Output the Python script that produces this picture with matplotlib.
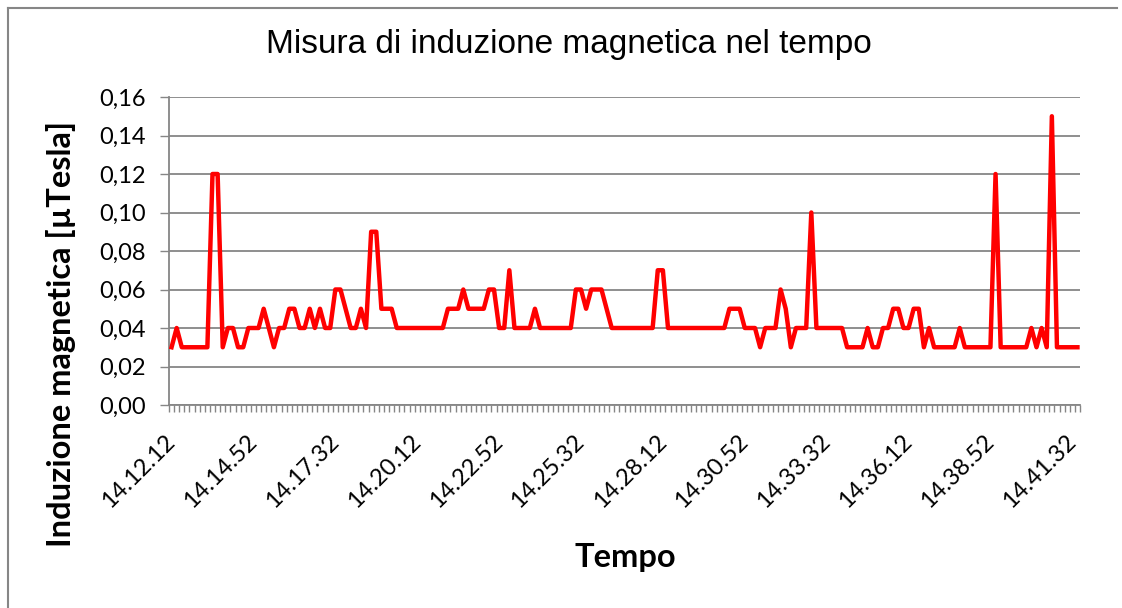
import matplotlib.pyplot as plt
import pandas as pd
from matplotlib.lines import Line2D

# sampling: one reading every 10 s starting at 14.12.12
start_time = '14:12:12'
step_seconds = 10
label_every = 16

# magnetic induction readings [uTesla]
induzione = [
    0.03, 0.04, 0.03, 0.03, 0.03, 0.03, 0.03, 0.03, 0.12, 0.12,
    0.03, 0.04, 0.04, 0.03, 0.03, 0.04, 0.04, 0.04, 0.05, 0.04,
    0.03, 0.04, 0.04, 0.05, 0.05, 0.04, 0.04, 0.05, 0.04, 0.05,
    0.04, 0.04, 0.06, 0.06, 0.05, 0.04, 0.04, 0.05, 0.04, 0.09,
    0.09, 0.05, 0.05, 0.05, 0.04, 0.04, 0.04, 0.04, 0.04, 0.04,
    0.04, 0.04, 0.04, 0.04, 0.05, 0.05, 0.05, 0.06, 0.05, 0.05,
    0.05, 0.05, 0.06, 0.06, 0.04, 0.04, 0.07, 0.04, 0.04, 0.04,
    0.04, 0.05, 0.04, 0.04, 0.04, 0.04, 0.04, 0.04, 0.04, 0.06,
    0.06, 0.05, 0.06, 0.06, 0.06, 0.05, 0.04, 0.04, 0.04, 0.04,
    0.04, 0.04, 0.04, 0.04, 0.04, 0.07, 0.07, 0.04, 0.04, 0.04,
    0.04, 0.04, 0.04, 0.04, 0.04, 0.04, 0.04, 0.04, 0.04, 0.05,
    0.05, 0.05, 0.04, 0.04, 0.04, 0.03, 0.04, 0.04, 0.04, 0.06,
    0.05, 0.03, 0.04, 0.04, 0.04, 0.10, 0.04, 0.04, 0.04, 0.04,
    0.04, 0.04, 0.03, 0.03, 0.03, 0.03, 0.04, 0.03, 0.03, 0.04,
    0.04, 0.05, 0.05, 0.04, 0.04, 0.05, 0.05, 0.03, 0.04, 0.03,
    0.03, 0.03, 0.03, 0.03, 0.04, 0.03, 0.03, 0.03, 0.03, 0.03,
    0.03, 0.12, 0.03, 0.03, 0.03, 0.03, 0.03, 0.03, 0.04, 0.03,
    0.04, 0.03, 0.15, 0.03, 0.03, 0.03, 0.03, 0.03,
]

y_ticks = [0.00, 0.02, 0.04, 0.06, 0.08, 0.10, 0.12, 0.14, 0.16]

times = pd.date_range('2000-01-01 ' + start_time, periods=len(induzione), freq=f'{step_seconds}s')
tempo = [t.strftime('%H.%M.%S') for t in times]

grey = '#868686'
W, H = 1122, 608

fig = plt.figure(figsize=(W / 100, H / 100), dpi=100)
ax = fig.add_axes([169 / W, 1 - 405 / H, (1080 - 169) / W, (405 - 97) / H])

x = list(range(len(induzione)))
ax.plot(x, induzione, color='#ff0000', linewidth=3.2, solid_joinstyle='round', zorder=3)

ax.set_xlim(-0.5, len(induzione) - 0.5)
ax.set_ylim(0, 0.16)

# y axis
ax.set_yticks(y_ticks)
ax.set_yticklabels([f'{v:.2f}'.replace('.', ',') for v in y_ticks], fontfamily='Lato', fontsize=17)
ax.yaxis.grid(True, color=grey, linewidth=1.3)
ax.set_axisbelow(True)

# x axis: small tick at every category boundary, label every 16 readings
ax.set_xticks([i - 0.5 for i in range(len(induzione) + 1)], minor=True)
label_pos = list(range(0, len(induzione), label_every))
ax.set_xticks(label_pos)
ax.set_xticklabels([tempo[i] for i in label_pos], rotation=45, ha='right', va='center',
                   rotation_mode='anchor', fontfamily='Lato', fontsize=17)
ax.tick_params(axis='x', which='major', length=0, pad=24)
ax.tick_params(axis='x', which='minor', length=5, width=1, color=grey, direction='out')
ax.tick_params(axis='y', length=6.5, width=1, color=grey, direction='out', pad=10)

for side in ['top', 'right']:
    ax.spines[side].set_visible(False)
for side in ['left', 'bottom']:
    ax.spines[side].set_color(grey)
    ax.spines[side].set_linewidth(1.3)

fig.text(569 / W, 1 - 45 / H, 'Misura di induzione magnetica nel tempo',
         fontfamily='Liberation Sans', fontsize=24, ha='center', va='center')
fig.text(625 / W, 1 - 557 / H, 'Tempo', fontfamily='Lato', fontweight='bold',
         fontsize=23.5, ha='center', va='center')
fig.text(61 / W, 1 - 334 / H, 'Induzione magnetica [µTesla]', fontfamily='Lato',
         fontweight='bold', fontsize=23.5, rotation=90, ha='center', va='center')

# chart area border
fig.add_artist(Line2D([8 / W, 8 / W], [0, 1 - 8 / H], color=grey, linewidth=1.5))
fig.add_artist(Line2D([8 / W, 1117 / W], [1 - 8 / H, 1 - 8 / H], color=grey, linewidth=1.5))

fig.savefig('out.png', dpi=100)
